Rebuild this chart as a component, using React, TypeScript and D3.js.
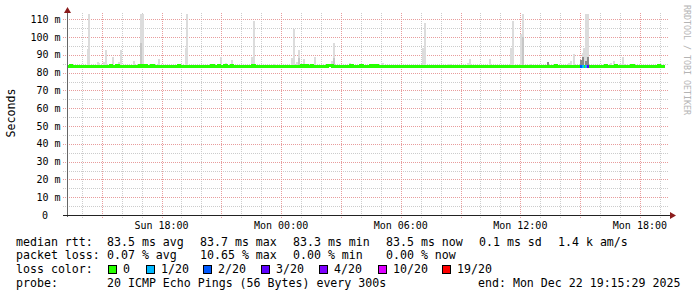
import React from "react";
import * as d3 from "d3";

const W = 697;
const H = 297;
const START = new Date(2025, 11, 21, 13, 15, 29);
const END = new Date(2025, 11, 22, 19, 15, 29);
const STEP_MS = 5 * 60 * 1000;

const yMajorTicks = [10, 20, 30, 40, 50, 60, 70, 80, 90, 100, 110];
const yMinorTicks = [5, 15, 25, 35, 45, 55, 65, 75, 85, 95, 105];
const yLabelValues = [0, 10, 20, 30, 40, 50, 60, 70, 80, 90, 100, 110];
const yLabelTexts = ["0", "10 m", "20 m", "30 m", "40 m", "50 m", "60 m", "70 m", "80 m", "90 m", "100 m", "110 m"];

const xLabelTimes = ["2025-12-21T18:00", "2025-12-22T00:00", "2025-12-22T06:00", "2025-12-22T12:00", "2025-12-22T18:00"];
const xLabelTexts = ["Sun 18:00", "Mon 00:00", "Mon 06:00", "Mon 12:00", "Mon 18:00"];

// smoke (ping spread) per 5-minute step: time, highest ping (ms), top of denser part (ms, 0 = none)
const smokeTimes = [
  "2025-12-21T14:15", "2025-12-21T14:20", "2025-12-21T14:45", "2025-12-21T14:50", "2025-12-21T15:05",
  "2025-12-21T15:10", "2025-12-21T15:30", "2025-12-21T15:50", "2025-12-21T15:55", "2025-12-21T16:35",
  "2025-12-21T16:55", "2025-12-21T17:00", "2025-12-21T17:50", "2025-12-21T19:10", "2025-12-21T19:15",
  "2025-12-21T20:25", "2025-12-21T20:30", "2025-12-21T20:55", "2025-12-21T21:10", "2025-12-21T21:30",
  "2025-12-21T22:30", "2025-12-21T22:35", "2025-12-21T23:40",
  "2025-12-22T00:30", "2025-12-22T00:35", "2025-12-22T00:45", "2025-12-22T00:50", "2025-12-22T01:05",
  "2025-12-22T01:40", "2025-12-22T02:30", "2025-12-22T02:35", "2025-12-22T03:25", "2025-12-22T05:00",
  "2025-12-22T05:05", "2025-12-22T07:05", "2025-12-22T07:10", "2025-12-22T08:20", "2025-12-22T08:25",
  "2025-12-22T09:20", "2025-12-22T09:25", "2025-12-22T10:25", "2025-12-22T11:30", "2025-12-22T11:35",
  "2025-12-22T12:00", "2025-12-22T12:05", "2025-12-22T12:25", "2025-12-22T14:25", "2025-12-22T14:30",
  "2025-12-22T14:40", "2025-12-22T15:05", "2025-12-22T15:10", "2025-12-22T15:15", "2025-12-22T15:20",
  "2025-12-22T16:30", "2025-12-22T16:40", "2025-12-22T17:00", "2025-12-22T17:05", "2025-12-22T17:10",
];
const smokeHigh = [
  93.5, 113, 86, 85.5, 86,
  92.6, 88.8, 86, 93, 86.5,
  113, 113, 87.5, 94, 113,
  85, 85, 88.8, 85.5, 87,
  88.8, 109, 85,
  88.4, 104.8, 86, 93, 87.5,
  88.8, 86.5, 96.7, 85.5, 85.5,
  85.5, 94, 108, 85, 85,
  85.5, 87.6, 87.6, 94, 109,
  102, 113, 85, 85.5, 86.5,
  90.7, 91, 94, 113, 113,
  85.5, 86.5, 85, 88.8, 85,
];
const smokeMid = [
  0, 0, 0, 0, 0,
  0, 0, 0, 0, 0,
  96.5, 0, 0, 0, 0,
  0, 0, 0, 0, 0,
  0, 0, 0,
  0, 0, 0, 88, 0,
  0, 0, 88, 0, 0,
  0, 0, 0, 0, 0,
  0, 0, 0, 0, 0,
  0, 100, 0, 0, 0,
  0, 0, 0, 0, 0,
  0, 0, 0, 0, 0,
];
const smokeLow = 83.0;

const darkTimes = ["2025-12-22T13:20", "2025-12-22T15:00", "2025-12-22T15:05", "2025-12-22T15:15", "2025-12-22T15:20"];
const darkHigh = [86, 87, 89, 86.5, 89];

const medianBase = 83.5;
const bumpValue = 84.3;
const bumpTimes = [
  "2025-12-21T13:25", "2025-12-21T15:25", "2025-12-21T15:45", "2025-12-21T16:55", "2025-12-21T17:10",
  "2025-12-21T17:30", "2025-12-21T18:50", "2025-12-21T20:30", "2025-12-21T20:50", "2025-12-21T21:10",
  "2025-12-21T21:30", "2025-12-21T22:35", "2025-12-22T01:00", "2025-12-22T01:10", "2025-12-22T01:15",
  "2025-12-22T01:30", "2025-12-22T02:20", "2025-12-22T02:25", "2025-12-22T02:30", "2025-12-22T03:30",
  "2025-12-22T04:00", "2025-12-22T04:30", "2025-12-22T04:45", "2025-12-22T13:45", "2025-12-22T16:15",
  "2025-12-22T16:45", "2025-12-22T17:35", "2025-12-22T18:55",
];

const lossTimes = ["2025-12-22T15:00", "2025-12-22T15:05", "2025-12-22T15:15", "2025-12-22T15:20"];
const lossLevel = [2, 1, 1, 3];

const lossColors = ["#26ff00", "#00b8ff", "#0059ff", "#5e00ff", "#7e00ff", "#dd00ff", "#ff0000"];
const lossLabels = ["0", "1/20", "2/20", "3/20", "4/20", "10/20", "19/20"];

const rttLabel = "median rtt:";
const rttTexts = ["83.5 ms avg", "83.7 ms max", "83.3 ms min", "83.5 ms now", "0.1 ms sd", "1.4 k am/s"];
const lossLabel = "packet loss:";
const lossTexts = ["0.07 % avg", "10.65 % max", "0.00 % min", "0.00 % now"];
const probeLabel = "probe:";
const probeText = "20 ICMP Echo Pings (56 Bytes) every 300s";
const endText = "end: Mon Dec 22 19:15:29 2025";

const MONO = "'DejaVu Sans Mono', monospace";

export default function App() {
  const left = 67;
  const right = 665;
  const top = 13;
  const bottom = 215;
  const x = d3.scaleTime().domain([START, END]).range([left, right]);
  const y = d3.scaleLinear().domain([0, 110]).range([bottom, 19.3]);
  const parse = (s: string) => new Date(s);
  const next = (d: Date) => new Date(d.getTime() + STEP_MS);
  const span = (t: Date) => {
    const x0 = Math.round(x(t));
    const x1 = Math.max(x0 + 2, Math.round(x(next(t))));
    return [x0, x1 - x0];
  };

  const hourTicks = d3.timeHour.every(1)!.range(START, END);
  const majorV = hourTicks.filter((d) => d.getHours() % 3 === 0);
  const minorV = hourTicks.filter((d) => d.getHours() % 3 !== 0);

  const medianPts: { t: Date; v: number }[] = [{ t: START, v: medianBase }];
  bumpTimes.map(parse).forEach((t) => {
    medianPts.push({ t, v: bumpValue });
    medianPts.push({ t: next(t), v: medianBase });
  });
  medianPts.push({ t: END, v: medianBase });
  const medianLine = d3
    .line<{ t: Date; v: number }>()
    .x((d) => x(d.t))
    .y((d) => y(d.v))
    .curve(d3.curveStepAfter);

  const rttX = [107, 200, 293, 386, 479, 558];
  const lossX = [107, 200, 293, 386];
  const boxX = [108, 146, 203, 261, 319, 378, 442];

  return (
    <div style={{ position: "absolute", left: 0, top: 0 }}>
      <svg width={W} height={H} viewBox={`0 0 ${W} ${H}`} style={{ display: "block", background: "#fff" }}>
        <defs>
          <clipPath id="plot">
            <rect x={left} y={top} width={right - left} height={bottom - top} />
          </clipPath>
        </defs>
        <rect x={0} y={0} width={W} height={H} fill="#fff" />

        {/* grid */}
        <g shapeRendering="crispEdges">
          {minorV.map((d, i) => (
            <line key={"mv" + i} x1={Math.round(x(d)) + 0.5} x2={Math.round(x(d)) + 0.5} y1={top} y2={218}
              stroke="#cccccc" strokeDasharray="1 1" />
          ))}
          {yMinorTicks.map((v, i) => (
            <line key={"mh" + i} x1={63} x2={668} y1={Math.round(y(v)) + 0.5} y2={Math.round(y(v)) + 0.5}
              stroke="#cccccc" strokeDasharray="1 1" />
          ))}
          {majorV.map((d, i) => (
            <line key={"Mv" + i} x1={Math.round(x(d)) + 0.5} x2={Math.round(x(d)) + 0.5} y1={top} y2={218}
              stroke="#e89c9c" strokeDasharray="1 1" />
          ))}
          {yMajorTicks.map((v, i) => (
            <line key={"Mh" + i} x1={63} x2={668} y1={Math.round(y(v)) + 0.5} y2={Math.round(y(v)) + 0.5}
              stroke="#e89c9c" strokeDasharray="1 1" />
          ))}
        </g>

        {/* smoke */}
        <g clipPath="url(#plot)" shapeRendering="crispEdges">
          {smokeTimes.map((s, i) => {
            const [x0, w] = span(parse(s));
            return (
              <g key={"s" + i}>
                <rect x={x0} width={w} y={y(smokeHigh[i])} height={y(smokeLow) - y(smokeHigh[i])} fill="#dcdcdc" />
                {smokeMid[i] > 0 && (
                  <rect x={x0} width={w} y={y(smokeMid[i])} height={y(smokeLow) - y(smokeMid[i])} fill="#c6c6c6" />
                )}
              </g>
            );
          })}
          {darkTimes.map((s, i) => {
            const [x0, w] = span(parse(s));
            return (
              <rect key={"d" + i} x={x0} width={w} y={y(darkHigh[i])} height={y(smokeLow) - y(darkHigh[i])} fill="#8a8a8a" />
            );
          })}
        </g>

        {/* median */}
        <path d={medianLine(medianPts) || ""} fill="none" stroke={lossColors[0]} strokeWidth={3} shapeRendering="crispEdges" />
        {lossTimes.map((s, i) => {
          const [x0, w] = span(parse(s));
          return (
            <rect key={"l" + i} x={x0} width={w} y={y(medianBase) - 1.5} height={3}
              fill={lossColors[lossLevel[i]]} shapeRendering="crispEdges" />
          );
        })}

        {/* axes */}
        <line x1={67.5} x2={67.5} y1={217} y2={11} stroke="#666" shapeRendering="crispEdges" />
        <line x1={63} x2={671} y1={215.5} y2={215.5} stroke="#222" shapeRendering="crispEdges" />
        <polygon points="64,13 71,13 67.5,7" fill="#8b1c1c" />
        <polygon points="670,212 670,219 676,215.5" fill="#8b1c1c" />

        {/* y labels */}
        {yLabelValues.map((v, i) => (
          <text key={"yl" + i} x={v === 0 ? 48 : 60.5} y={y(v)} dy="0.35em" textAnchor="end"
            fontFamily={MONO} fontSize={10} fill="#000">
            {yLabelTexts[i]}
          </text>
        ))}
        {/* x labels */}
        {xLabelTimes.map((s, i) => (
          <text key={"xl" + i} x={x(parse(s))} y={228.5} textAnchor="middle" fontFamily={MONO} fontSize={10} fill="#000">
            {xLabelTexts[i]}
          </text>
        ))}

        <text transform="translate(14.5,113) rotate(-90)" textAnchor="middle" fontFamily={MONO} fontSize={11.6} fill="#000">
          Seconds
        </text>
        <text transform="translate(684,5) rotate(90)" textAnchor="start" fontFamily={MONO} fontSize={8.3} fill="#b4b4b4">
          RRDTOOL / TOBI OETIKER
        </text>

        {/* legend */}
        <g fontFamily={MONO} fontSize={11.6} fill="#000">
          <text x={16} y={245.5}>{rttLabel}</text>
          {rttTexts.map((s, i) => (
            <text key={"r" + i} x={rttX[i]} y={245.5}>{s}</text>
          ))}
          <text x={16} y={259}>{lossLabel}</text>
          {lossTexts.map((s, i) => (
            <text key={"p" + i} x={lossX[i]} y={259}>{s}</text>
          ))}
          <text x={16} y={273}>loss color:</text>
          {lossLabels.map((s, i) => (
            <g key={"b" + i}>
              <rect x={boxX[i] + 0.5} y={265.5} width={8} height={8} fill={lossColors[i]} stroke="#000" shapeRendering="crispEdges" />
              <text x={boxX[i] + 15} y={273}>{s}</text>
            </g>
          ))}
          <text x={16} y={287}>{probeLabel}</text>
          <text x={107} y={287}>{probeText}</text>
          <text x={478} y={287}>{endText}</text>
        </g>
      </svg>
    </div>
  );
}
